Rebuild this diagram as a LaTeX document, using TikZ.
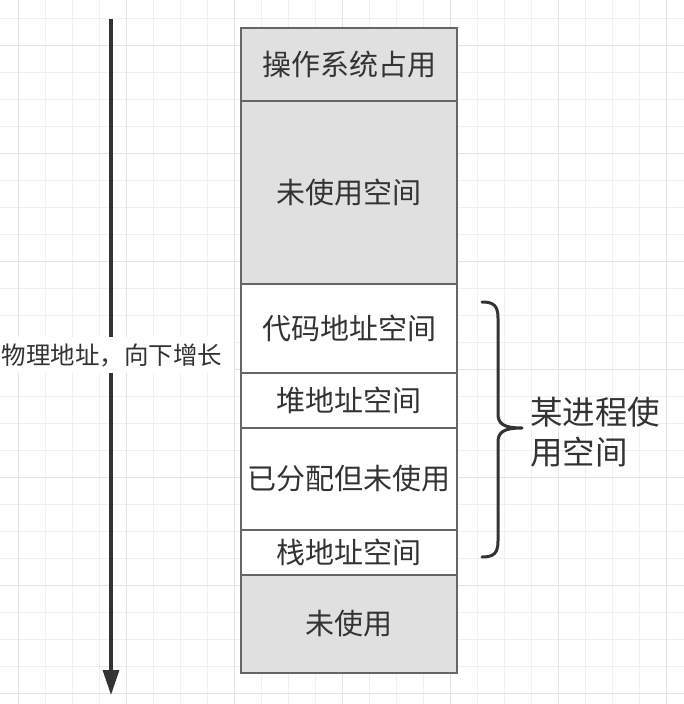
\documentclass[tikz,border=0pt]{standalone}
\usepackage{fontspec}
\newfontfamily\cjk{Noto Sans CJK SC}
\usetikzlibrary{arrows.meta}
\definecolor{gridminor}{HTML}{F0F0F0}
\definecolor{gridmajor}{HTML}{E3E3E3}
\definecolor{boxline}{HTML}{666666}
\definecolor{boxgray}{HTML}{E0E0E0}
\definecolor{ink}{HTML}{333333}
\begin{document}
\begin{tikzpicture}[x=1pt,y=-1pt,
  seg/.style={draw=boxline, line width=1.3pt, minimum width=216pt, inner sep=0pt,
    text=ink, font=\cjk\fontsize{29pt}{34pt}\selectfont},
  grayseg/.style={seg, fill=boxgray},
  whiteseg/.style={seg, fill=white},
  minorline/.style={draw=gridminor, line width=1pt},
  majorline/.style={draw=gridmajor, line width=1pt}]
\useasboundingbox (0,0) rectangle (684,704);
\fill[white] (0,0) rectangle (684,704);
% grid
\foreach \k in {0,...,24} \draw[minorline] ({18+27*\k},0) -- ({18+27*\k},704);
\foreach \k in {0,...,25} \draw[minorline] (0,{18+27*\k}) -- (684,{18+27*\k});
\foreach \k in {0,4,...,24} \draw[majorline] ({18+27*\k},0) -- ({18+27*\k},704);
\foreach \k in {1,5,...,25} \draw[majorline] (0,{18+27*\k}) -- (684,{18+27*\k});
% memory segments
\node[grayseg, minimum height=73pt]  (r1) at (349,64.5)  {操作系统占用};
\node[grayseg, minimum height=183pt] (r2) at (349,192.5) {未使用空间};
\node[whiteseg, minimum height=89pt] (r3) at (349,328.5) {代码地址空间};
\node[whiteseg, minimum height=55pt] (r4) at (349,400.5) {堆地址空间};
\node[whiteseg, minimum height=102pt] (r5) at (349,479) {已分配但未使用};
\node[whiteseg, minimum height=45pt] (r6) at (349,552.5) {栈地址空间};
\node[grayseg, minimum height=98pt] (r7) at (349,624) {未使用};
% address arrow
\coordinate (atop) at (111,19);
\coordinate (abot) at (111,695);
\draw[ink, line width=3.3pt, -{Triangle[length=25pt,width=16pt]}] (atop) -- (abot);
\node[fill=white, text=ink, inner xsep=12pt, inner ysep=0pt, minimum height=36pt,
  font=\cjk\fontsize{24.5pt}{29pt}\selectfont] (lbl) at (112,355) {物理地址，向下增长};
% brace
\draw[ink, line width=3pt, line cap=round, line join=round]
  (482,302) .. controls (494,302) and (498,306) .. (498,318)
  -- (498,414) .. controls (498,424) and (504,428) .. (522,428)
  .. controls (504,428) and (498,432) .. (498,442)
  -- (498,541) .. controls (498,553) and (494,557) .. (482,557);
\node[anchor=west, align=left, inner sep=0pt, text=ink,
  font=\cjk\fontsize{32.5pt}{40pt}\selectfont] (proc) at (530,432) {某进程使\\用空间};
\end{tikzpicture}
\end{document}
